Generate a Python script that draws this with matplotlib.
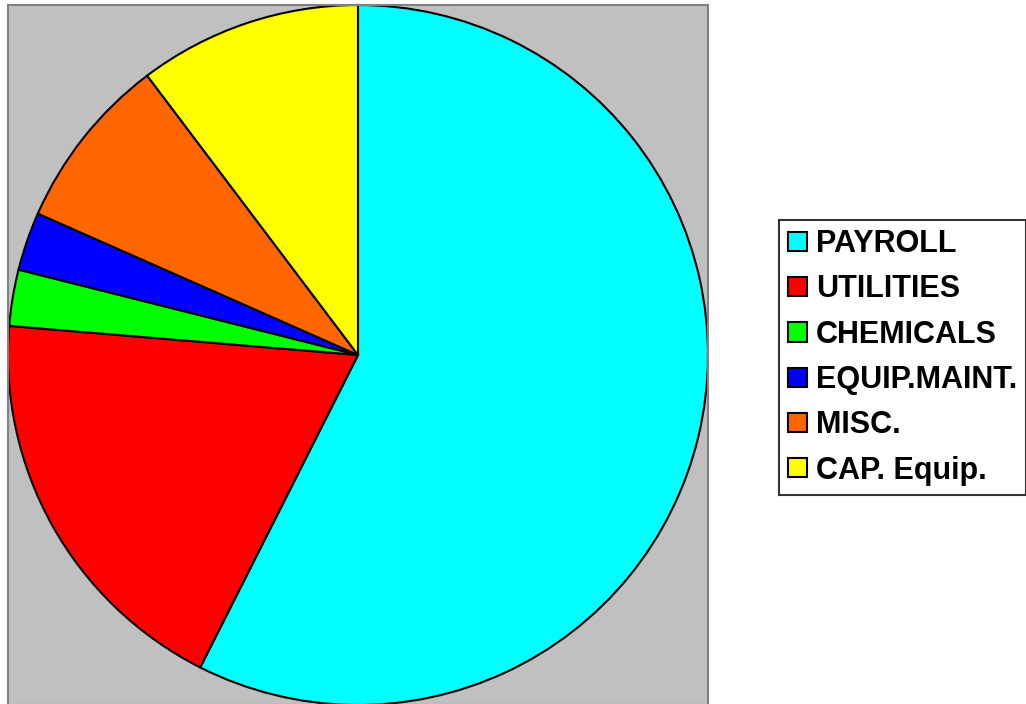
import matplotlib
matplotlib.use("Agg")
import matplotlib.pyplot as plt
from matplotlib.patches import Patch

categories = ["PAYROLL", "UTILITIES", "CHEMICALS", "EQUIP.MAINT.", "MISC.", "CAP. Equip."]
values = [57.5, 18.9, 2.6, 2.7, 8.1, 10.3]
colors = ["#00FFFF", "#FF0000", "#00FF00", "#0000FF", "#FF6600", "#FFFF00"]

W, H = 1026, 704
fig = plt.figure(figsize=(W / 100, H / 100), dpi=100)
fig.patch.set_facecolor("white")

ax = fig.add_axes([8 / W, (H - 705) / H, 700 / W, 700 / H])
ax.set_facecolor("#C0C0C0")
wedges, _ = ax.pie(values, colors=colors, startangle=90, counterclock=False,
                   radius=1.0, center=(0, 0),
                   wedgeprops=dict(edgecolor="black", linewidth=1.5))
for w in wedges:
    w.set_clip_on(False)
ax.set_xlim(-1, 1)
ax.set_ylim(-1, 1)
ax.set_aspect("auto")
ax.set_xticks([])
ax.set_yticks([])
ax.set_frame_on(True)
for s in ax.spines.values():
    s.set_color("#808080")
    s.set_linewidth(1.5)
    s.set_visible(True)

fs = 22
handles = [Patch(facecolor=c, edgecolor="black", linewidth=1.5) for c in colors]
leg = fig.legend(handles, categories, loc="upper left",
                 bbox_to_anchor=(779 / W, 1 - 220 / H),
                 bbox_transform=fig.transFigure,
                 prop=dict(family="Liberation Sans", weight="bold", size=fs),
                 frameon=True, fancybox=False, shadow=False,
                 handlelength=0.6, handleheight=0.6, handletextpad=0.3,
                 labelspacing=0.5, borderpad=0.3, borderaxespad=0)
leg.get_frame().set_edgecolor("black")
leg.get_frame().set_linewidth(1.5)
leg.get_frame().set_facecolor("white")

fig.savefig("out.png", dpi=100)
